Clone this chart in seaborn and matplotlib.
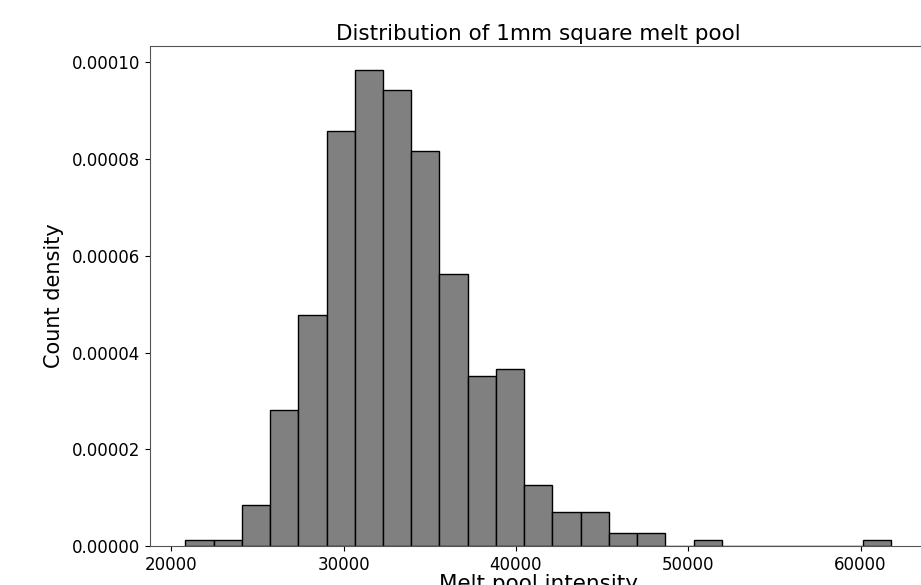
import numpy as np
import pandas as pd
import matplotlib
matplotlib.use("Agg")
import matplotlib.pyplot as plt
import seaborn as sns

# Histogram data
bin_start = 20812
bin_end = 61786
n_bins = 25
counts = [1, 1, 6, 20, 34, 61, 70, 67, 58, 40, 25, 26, 9, 5, 5, 2, 2, 0, 1, 0, 0, 0, 0, 0, 1]
x_ticks = [20000, 30000, 40000, 50000, 60000]
y_ticks = [0.0, 0.00002, 0.00004, 0.00006, 0.00008, 0.00010]

edges = np.linspace(bin_start, bin_end, n_bins + 1)
centers = (edges[:-1] + edges[1:]) / 2
df = pd.DataFrame({"intensity": centers, "count": counts})

plt.rcParams['font.family'] = ['DejaVu Sans']
fig = plt.figure(figsize=(9.21, 5.85), dpi=100)
ax = fig.add_axes([0.1629, 0.0661, 0.8432, 0.8558])

sns.histplot(data=df, x="intensity", weights="count", bins=n_bins,
             binrange=(bin_start, bin_end), stat='density',
             color='#808080', edgecolor='black', linewidth=1.0, alpha=1.0, ax=ax)

ax.set_xticks(x_ticks)
ax.set_yticks(y_ticks)
ax.set_yticklabels([f"{v:.5f}" for v in y_ticks])
ax.tick_params(labelsize=12)
ax.set_xlabel("Melt pool intensity", fontsize=15.5, labelpad=0)
ax.set_ylabel("Count density", fontsize=15, labelpad=6)
ax.set_title("Distribution of 1mm square melt pool", fontsize=15.5, pad=4)
for s in ax.spines.values():
    s.set_color('#555555')

fig.savefig("out.png", dpi=100)
